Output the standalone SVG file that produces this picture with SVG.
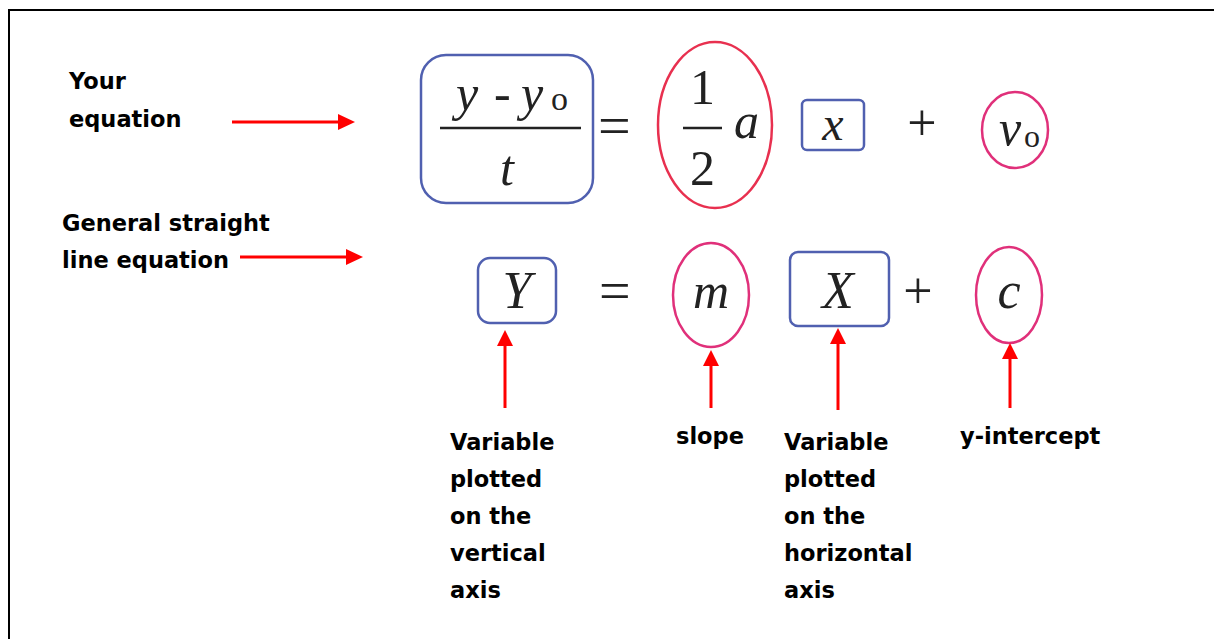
<svg xmlns="http://www.w3.org/2000/svg" width="1214" height="639" viewBox="0 0 1214 639">
<defs>
<style>
.lbl{font-family:"Comic Sans MS","DejaVu Sans",sans-serif;font-weight:bold;font-size:22.5px;fill:#000}
.m{font-family:"Liberation Serif","Times New Roman",serif;font-style:italic;fill:#222}
.n{font-family:"Liberation Serif","Times New Roman",serif;fill:#222}
.blue{fill:none;stroke:#5060b0;stroke-width:2.5}
.red{fill:none;stroke:#e8304f;stroke-width:2.5}
.pink{fill:none;stroke:#e0307a;stroke-width:2.5}
.arr{stroke:#ff0000;stroke-width:3;fill:none}
.ah{fill:#ff0000}
</style>
</defs>
<rect x="0" y="0" width="1214" height="639" fill="#fff"/>
<rect x="9" y="10" width="1220" height="650" fill="none" stroke="#000" stroke-width="2"/>

<g id="label-your"><text class="lbl" x="69" y="89">Your</text><text class="lbl" x="69" y="127">equation</text></g>
<g id="label-general"><text class="lbl" x="62" y="231">General straight</text><text class="lbl" x="62" y="268">line equation</text></g>

<g id="node-lhs1">
<rect class="blue" x="421" y="55" width="172" height="148" rx="25"/>
<text class="m" x="456" y="110" font-size="50">y</text>
<text class="n" x="494" y="110" font-size="50">-</text>
<text class="m" x="521" y="110" font-size="50">y</text>
<text class="n" x="551" y="110" font-size="34">o</text>
<line x1="440" y1="128" x2="581" y2="128" stroke="#222" stroke-width="2.5"/>
<text class="m" x="500" y="185" font-size="50">t</text>
</g>
<g id="eq1"><text class="n" x="598" y="145" font-size="58">=</text></g>
<g id="node-half-a">
<ellipse class="red" cx="715" cy="125" rx="57" ry="83"/>
<text class="n" x="690" y="104" font-size="50">1</text>
<line x1="683" y1="128" x2="722" y2="128" stroke="#222" stroke-width="2.5"/>
<text class="n" x="690" y="185" font-size="50">2</text>
<text class="m" x="734" y="138" font-size="50">a</text>
</g>
<g id="node-x"><rect class="blue" x="802" y="100" width="62" height="50" rx="5"/><text class="m" x="833" y="140" font-size="48" text-anchor="middle">x</text></g>
<g id="plus1"><text class="n" x="922" y="140" font-size="52" text-anchor="middle">+</text></g>
<g id="node-v0"><ellipse class="pink" cx="1015" cy="130" rx="33" ry="38"/><text class="m" x="999" y="145" font-size="50">v</text><text class="n" x="1024" y="147" font-size="32">o</text></g>

<g id="node-Y"><rect class="blue" x="478" y="258" width="78" height="65" rx="12"/><text class="m" x="517" y="308" font-size="52" text-anchor="middle">Y</text></g>
<g id="eq2"><text class="n" x="599" y="310" font-size="56">=</text></g>
<g id="node-m"><ellipse class="pink" cx="711" cy="295" rx="38" ry="52"/><text class="m" x="711" y="308" font-size="50" text-anchor="middle">m</text></g>
<g id="node-X"><rect class="blue" x="790" y="252" width="99" height="74" rx="8"/><text class="m" x="838" y="308" font-size="52" text-anchor="middle">X</text></g>
<g id="plus2"><text class="n" x="918" y="308" font-size="52" text-anchor="middle">+</text></g>
<g id="node-c"><ellipse class="pink" cx="1009" cy="295" rx="33" ry="48"/><text class="m" x="1009" y="308" font-size="52" text-anchor="middle">c</text></g>

<g id="connectors">
<line class="arr" x1="232" y1="122" x2="340" y2="122"/><path class="ah" d="M338,114 L355,122 L338,130 z"/>
<line class="arr" x1="240" y1="257" x2="348" y2="257"/><path class="ah" d="M346,249 L363,257 L346,265 z"/>
<line class="arr" x1="505" y1="408" x2="505" y2="344"/><path class="ah" d="M497,346 L505,330 L513,346 z"/>
<line class="arr" x1="711" y1="408" x2="711" y2="364"/><path class="ah" d="M703,366 L711,350 L719,366 z"/>
<line class="arr" x1="838" y1="410" x2="838" y2="342"/><path class="ah" d="M830,344 L838,328 L846,344 z"/>
<line class="arr" x1="1010" y1="408" x2="1010" y2="357"/><path class="ah" d="M1002,359 L1010,343 L1018,359 z"/>
</g>

<g id="label-vertical"><text class="lbl" x="450" y="450">Variable</text><text class="lbl" x="450" y="487">plotted</text><text class="lbl" x="450" y="524">on the</text><text class="lbl" x="450" y="561">vertical</text><text class="lbl" x="450" y="598">axis</text></g>
<g id="label-slope"><text class="lbl" x="676" y="444">slope</text></g>
<g id="label-horizontal"><text class="lbl" x="784" y="450">Variable</text><text class="lbl" x="784" y="487">plotted</text><text class="lbl" x="784" y="524">on the</text><text class="lbl" x="784" y="561">horizontal</text><text class="lbl" x="784" y="598">axis</text></g>
<g id="label-intercept"><text class="lbl" x="960" y="444">y-intercept</text></g>
</svg>
